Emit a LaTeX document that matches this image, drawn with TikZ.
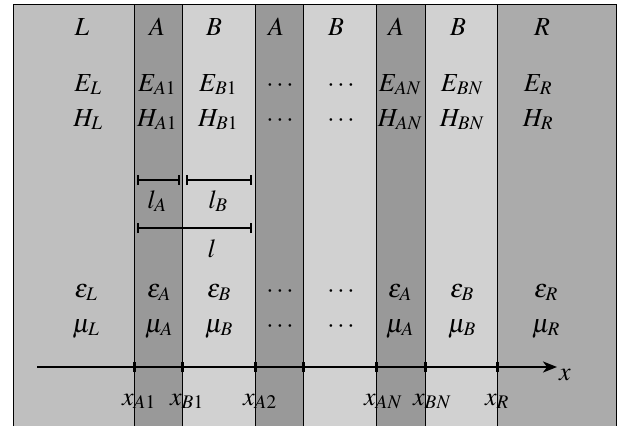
\documentclass[tikz,border=0pt]{standalone}
\usepackage{mathptmx}
\usetikzlibrary{arrows.meta}
\usetikzlibrary{positioning}
\definecolor{colL}{gray}{0.75}
\definecolor{colA}{gray}{0.6}
\definecolor{colB}{gray}{0.82}
\definecolor{colR}{gray}{0.67}
\tikzstyle{txt} = [anchor=base, inner sep=0pt, font=\fontsize{26}{30}\selectfont]
\tikzstyle{wall} = [draw=black, line width=0.8pt]
\tikzstyle{bar} = [{Bar[width=10pt]}-{Bar[width=10pt]}, line width=2pt]
\tikzstyle{tick} = [line width=3pt]
\tikzstyle{arrow} = [line width=2pt,-{Stealth[length=14pt,width=11pt,inset=4pt]}]

\begin{document}
\begin{tikzpicture}[x=1pt,y=-1pt]
  \useasboundingbox (0,0) rectangle (624,426);
  % layers
  \fill[colL] (13,4) rectangle (134,426);
  \fill[colA] (134,4) rectangle (182,426);
  \fill[colB] (182,4) rectangle (255,426);
  \fill[colA] (255,4) rectangle (303,426);
  \fill[colB] (303,4) rectangle (376,426);
  \fill[colA] (376,4) rectangle (425,426);
  \fill[colB] (425,4) rectangle (497,426);
  \fill[colR] (497,4) rectangle (616,426);
  \draw[wall] (13,426) -- (13,4) -- (616,4) -- (616,426);
  \draw[wall] (134,4) -- (134,426);
  \draw[wall] (182,4) -- (182,426);
  \draw[wall] (255,4) -- (255,426);
  \draw[wall] (303,4) -- (303,426);
  \draw[wall] (376,4) -- (376,426);
  \draw[wall] (425,4) -- (425,426);
  \draw[wall] (497,4) -- (497,426);

  \node (tL) [txt] at (82,35) {$L$};
  \node (tA1) [txt] at (157,35) {$A$};
  \node (tB1) [txt] at (214,35) {$B$};
  \node (tA2) [txt] at (276,35) {$A$};
  \node (tB2) [txt] at (336,35) {$B$};
  \node (tAN) [txt] at (396,35) {$A$};
  \node (tBN) [txt] at (458,35) {$B$};
  \node (tR) [txt] at (542,35) {$R$};

  \node (eL) [txt] at (88,91) {$E_L$};
  \node (eA1) [txt] at (157,91) {$E_{A1}$};
  \node (eB1) [txt] at (218,91) {$E_{B1}$};
  \node (eA2) [txt] at (280,91) {$\cdots$};
  \node (eB2) [txt] at (341,91) {$\cdots$};
  \node (eAN) [txt] at (400,91) {$E_{AN}$};
  \node (eBN) [txt] at (462,91) {$E_{BN}$};
  \node (eR) [txt] at (538,91) {$E_R$};

  \node (hL) [txt] at (88,126) {$H_L$};
  \node (hA1) [txt] at (157,126) {$H_{A1}$};
  \node (hB1) [txt] at (218,126) {$H_{B1}$};
  \node (hA2) [txt] at (280,126) {$\cdots$};
  \node (hB2) [txt] at (341,126) {$\cdots$};
  \node (hAN) [txt] at (400,126) {$H_{AN}$};
  \node (hBN) [txt] at (462,126) {$H_{BN}$};
  \node (hR) [txt] at (538,126) {$H_R$};

  % thicknesses
  \coordinate (lA0) at (137,180);
  \coordinate (lA1) at (180,180);
  \coordinate (lB0) at (186,180);
  \coordinate (lB1) at (252,180);
  \coordinate (l0) at (137,228);
  \coordinate (l1) at (252,228);
  \draw[bar] (lA0) -- (lA1);
  \draw[bar] (lB0) -- (lB1);
  \draw[bar] (l0) -- (l1);
  \node (lA) [txt] at (157,208) {$l_A$};
  \node (lB) [txt] at (218,208) {$l_B$};
  \node (l) [txt] at (212,257) {$l$};

  \node (epsL) [txt] at (86,297) {$\epsilon_L$};
  \node (epsA1) [txt] at (159,297) {$\epsilon_A$};
  \node (epsB1) [txt] at (219,297) {$\epsilon_B$};
  \node (epsA2) [txt] at (280,297) {$\cdots$};
  \node (epsB2) [txt] at (341,297) {$\cdots$};
  \node (epsAN) [txt] at (400,297) {$\epsilon_A$};
  \node (epsBN) [txt] at (462,297) {$\epsilon_B$};
  \node (epsR) [txt] at (546,297) {$\epsilon_R$};

  \node (muL) [txt] at (86,332) {$\mu_L$};
  \node (muA1) [txt] at (159,332) {$\mu_A$};
  \node (muB1) [txt] at (219,332) {$\mu_B$};
  \node (muA2) [txt] at (280,332) {$\cdots$};
  \node (muB2) [txt] at (341,332) {$\cdots$};
  \node (muAN) [txt] at (400,332) {$\mu_A$};
  \node (muBN) [txt] at (462,332) {$\mu_B$};
  \node (muR) [txt] at (546,332) {$\mu_R$};

  % axis
  \coordinate (ax0) at (37,367);
  \coordinate (ax1) at (557,367);
  \draw[arrow] (ax0) -- (ax1);
  \node (xl) [txt, anchor=base west] at (559,380) {$x$};
  \draw[tick] (134,362) -- (134,372);
  \draw[tick] (182,362) -- (182,372);
  \draw[tick] (255,362) -- (255,372);
  \draw[tick] (303,362) -- (303,372);
  \draw[tick] (376,362) -- (376,372);
  \draw[tick] (425,362) -- (425,372);
  \draw[tick] (497,362) -- (497,372);
  \node (xA1) [txt, anchor=base west] at (122,405) {$x_{A1}$};
  \node (xB1) [txt, anchor=base west] at (170,405) {$x_{B1}$};
  \node (xA2) [txt, anchor=base west] at (243,405) {$x_{A2}$};
  \node (xAN) [txt, anchor=base west] at (364,405) {$x_{AN}$};
  \node (xBN) [txt, anchor=base west] at (413,405) {$x_{BN}$};
  \node (xR) [txt, anchor=base west] at (485,405) {$x_R$};
\end{tikzpicture}
\end{document}
